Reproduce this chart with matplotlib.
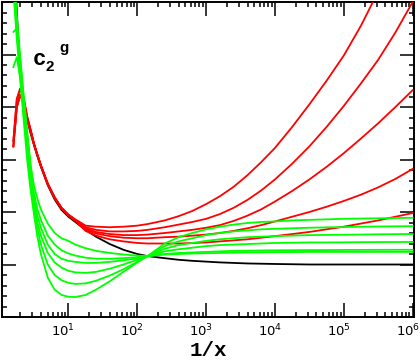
import matplotlib
matplotlib.use("Agg")
import matplotlib.pyplot as plt
from matplotlib.ticker import MultipleLocator, FixedLocator, LogLocator, NullFormatter, FuncFormatter
from matplotlib.transforms import ScaledTranslation
import numpy as np

plt.rcParams['mathtext.fontset'] = 'custom'
plt.rcParams['mathtext.rm'] = 'Liberation Sans:bold'
plt.rcParams['mathtext.it'] = 'Liberation Sans:bold'
plt.rcParams['mathtext.bf'] = 'Liberation Sans:bold'

# log10(1/x) sample positions
log_x = [0.2, 0.25, 0.3, 0.35, 0.4, 0.45, 0.5, 0.55, 0.6, 0.7, 0.8, 0.9, 1.0, 1.1,
         1.25, 1.4, 1.6, 1.8, 2.0, 2.15, 2.4, 2.6, 2.8, 3.0, 3.2, 3.4, 3.6, 3.8,
         4.0, 4.25, 4.5, 4.75, 5.0, 5.25, 5.5, 5.75, 6.0]

black = [7.5, 5.8, 4.7, 4.1, 3.76, 3.5, 3.27, 3.06, 2.86, 2.51, 2.24, 2.04, 1.91, 1.81,
         1.66, 1.53, 1.39, 1.28, 1.20, 1.16, 1.12, 1.09, 1.07, 1.055, 1.04, 1.03, 1.02, 1.015,
         1.01, 1.005, 1.0, 1.0, 1.0, 1.0, 1.0, 1.0, 1.0]

red1 = [3.35, 4.15, 4.35, 4.17, 3.82, 3.57, 3.30, 3.09, 2.89, 2.54, 2.28, 2.08, 1.95, 1.86,
        1.74, 1.72, 1.71, 1.72, 1.74, 1.77, 1.84, 1.92, 2.02, 2.15, 2.30, 2.48, 2.70, 2.95,
        3.22, 3.62, 4.05, 4.50, 4.98, 5.55, 6.2, 6.9, 7.6]
red2 = [3.35, 4.15, 4.35, 4.17, 3.82, 3.57, 3.30, 3.09, 2.89, 2.54, 2.28, 2.08, 1.95, 1.85,
        1.71, 1.66, 1.63, 1.63, 1.64, 1.66, 1.71, 1.76, 1.81, 1.87, 1.96, 2.08, 2.23, 2.41,
        2.62, 2.92, 3.25, 3.62, 4.02, 4.45, 4.90, 5.42, 6.0]
red3 = [3.25, 4.0, 4.23, 4.08, 3.78, 3.55, 3.29, 3.08, 2.88, 2.53, 2.27, 2.07, 1.94, 1.84,
        1.69, 1.62, 1.58, 1.56, 1.56, 1.57, 1.60, 1.63, 1.66, 1.70, 1.75, 1.83, 1.93, 2.05,
        2.20, 2.40, 2.62, 2.86, 3.12, 3.40, 3.69, 4.0, 4.32]
red4 = [3.25, 4.0, 4.23, 4.08, 3.78, 3.55, 3.29, 3.08, 2.88, 2.53, 2.27, 2.07, 1.94, 1.84,
        1.67, 1.59, 1.54, 1.51, 1.50, 1.50, 1.52, 1.53, 1.55, 1.57, 1.60, 1.64, 1.69, 1.75,
        1.82, 1.91, 2.0, 2.10, 2.21, 2.33, 2.47, 2.63, 2.82]
red5 = [3.25, 4.0, 4.23, 4.08, 3.78, 3.55, 3.29, 3.08, 2.88, 2.53, 2.27, 2.07, 1.93, 1.83,
        1.64, 1.55, 1.48, 1.44, 1.41, 1.40, 1.40, 1.40, 1.41, 1.42, 1.44, 1.46, 1.48, 1.51,
        1.54, 1.58, 1.62, 1.67, 1.72, 1.78, 1.84, 1.91, 1.98]

green1 = [6.2, 5.3, 4.5, 3.75, 3.0, 2.42, 1.95, 1.52, 1.2, 0.75, 0.52, 0.42, 0.385, 0.38,
          0.42, 0.52, 0.68, 0.86, 1.04, 1.16, 1.40, 1.52, 1.60, 1.67, 1.72, 1.76, 1.79, 1.81,
          1.82, 1.84, 1.85, 1.86, 1.87, 1.875, 1.88, 1.885, 1.89]
green2 = [6.4, 5.45, 4.65, 3.9, 3.2, 2.58, 2.05, 1.68, 1.38, 1.0, 0.80, 0.70, 0.65, 0.63,
          0.64, 0.69, 0.79, 0.91, 1.05, 1.16, 1.35, 1.44, 1.50, 1.56, 1.60, 1.63, 1.65, 1.67,
          1.68, 1.69, 1.70, 1.707, 1.713, 1.72, 1.724, 1.727, 1.73]
green3 = [6.55, 5.6, 4.8, 4.05, 3.35, 2.7, 2.15, 1.8, 1.55, 1.22, 1.04, 0.94, 0.88, 0.85,
          0.84, 0.86, 0.92, 1.0, 1.09, 1.16, 1.30, 1.37, 1.41, 1.45, 1.48, 1.50, 1.52, 1.53,
          1.54, 1.55, 1.56, 1.563, 1.567, 1.57, 1.575, 1.578, 1.58]
green4 = [6.75, 5.75, 4.95, 4.2, 3.5, 2.8, 2.25, 1.93, 1.7, 1.38, 1.2, 1.11, 1.07, 1.05,
          1.03, 1.03, 1.05, 1.08, 1.12, 1.16, 1.25, 1.29, 1.32, 1.35, 1.37, 1.38, 1.39, 1.40,
          1.41, 1.415, 1.42, 1.42, 1.422, 1.425, 1.427, 1.428, 1.43]
green5 = [5.43, 5.5, 4.9, 4.2, 3.55, 2.88, 2.35, 2.05, 1.85, 1.55, 1.38, 1.27, 1.21, 1.17,
          1.13, 1.11, 1.11, 1.12, 1.14, 1.16, 1.20, 1.22, 1.23, 1.24, 1.25, 1.26, 1.263, 1.267,
          1.27, 1.272, 1.274, 1.275, 1.277, 1.278, 1.279, 1.28, 1.28]
green6 = [4.76, 4.95, 4.55, 3.95, 3.45, 2.9, 2.5, 2.25, 2.05, 1.78, 1.6, 1.5, 1.45, 1.38,
          1.31, 1.26, 1.22, 1.19, 1.17, 1.16, 1.19, 1.20, 1.21, 1.215, 1.22, 1.225, 1.23, 1.232,
          1.235, 1.237, 1.24, 1.24, 1.24, 1.24, 1.24, 1.24, 1.24]

x_major = [1e1, 1e2, 1e3, 1e4, 1e5, 1e6]

x = 10 ** np.array(log_x)

fig = plt.figure(figsize=(4.2, 3.63), dpi=100)
ax = fig.add_axes([2 / 420, 1 - 317 / 363, 412 / 420, 315 / 363])

ax.plot(x, black, color='black', lw=1.3, zorder=2)
for r in [red1, red2, red3, red4, red5]:
    ax.plot(x, r, color='#ff0000', lw=1.3, zorder=3)
for g in [green1, green2, green3, green4, green5, green6]:
    ax.plot(x, g, color='#00ff00', lw=1.3, zorder=4)

ax.set_xscale('log')
ax.set_xlim(10 ** 0.035, 10 ** 6.02)
ax.set_ylim(0, 6)

ax.xaxis.set_major_locator(FixedLocator(x_major))
ax.xaxis.set_major_formatter(FuncFormatter(lambda v, p: r'$\mathdefault{10^{%d}}$' % round(np.log10(v))))
ax.xaxis.set_minor_locator(LogLocator(base=10, subs=np.arange(2, 10), numticks=20))
ax.xaxis.set_minor_formatter(NullFormatter())
ax.yaxis.set_major_locator(MultipleLocator(1))
ax.yaxis.set_minor_locator(MultipleLocator(0.2))
ax.set_yticklabels([])

ax.tick_params(which='both', direction='in', top=True, right=True, width=1.1)
ax.tick_params(which='major', length=10, labelsize=9.5, pad=4)
ax.tick_params(which='minor', length=3.5)
for s in ax.spines.values():
    s.set_linewidth(1.4)

# labels sit a little left of their ticks, as in the original
shift = ScaledTranslation(-5 / 100, 0, fig.dpi_scale_trans)
for t in ax.xaxis.get_major_ticks():
    t.label1.set_transform(t.label1.get_transform() + shift)

ax.set_xlabel('1/x', family='Liberation Mono', weight='bold', fontsize=15, labelpad=1)

fig.text(33 / 420, 1 - 65 / 363, 'c', family='Liberation Mono', weight='bold', fontsize=16)
fig.text(46 / 420, 1 - 71 / 363, '2', family='Liberation Sans', weight='bold', fontsize=11)
fig.text(59 / 420, 1 - 52 / 363, 'g', family='Liberation Sans', weight='bold', fontsize=11)

fig.savefig('out.png', dpi=100)
